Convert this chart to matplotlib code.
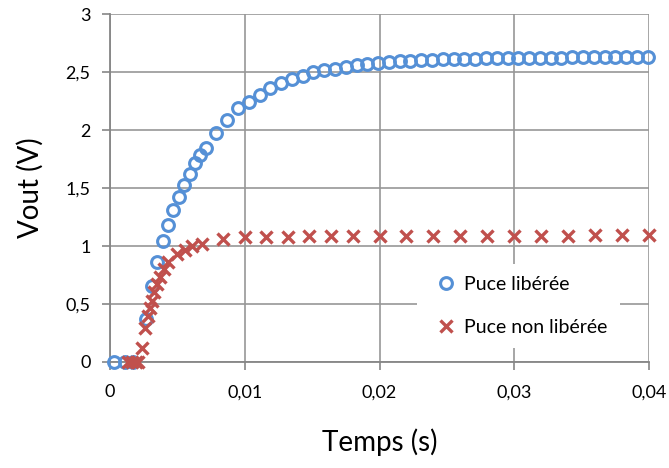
import matplotlib.pyplot as plt
from matplotlib.ticker import FuncFormatter

# Puce libérée (blue circles)
t_lib = [0.0003, 0.0011, 0.0017, 0.0027, 0.0031, 0.0035, 0.0039, 0.0043, 0.0047,
         0.0051, 0.0055, 0.0059, 0.0063, 0.0067, 0.0071, 0.0079, 0.0087, 0.0095,
         0.0103, 0.0111, 0.0119, 0.0127, 0.0135, 0.0143, 0.0151, 0.0159, 0.0167,
         0.0175, 0.0183, 0.0191, 0.0199, 0.0207, 0.0215, 0.0223, 0.0231, 0.0239,
         0.0247, 0.0255, 0.0263, 0.0271, 0.0279, 0.0287, 0.0295, 0.0303, 0.0311,
         0.0319, 0.0327, 0.0335, 0.0343, 0.0351, 0.0359, 0.0367, 0.0375, 0.0383,
         0.0391, 0.0399]
v_lib = [0.0, 0.0, 0.0, 0.37, 0.66, 0.86, 1.04, 1.18, 1.31,
         1.42, 1.53, 1.62, 1.72, 1.79, 1.85, 1.98, 2.09, 2.19,
         2.24, 2.30, 2.36, 2.41, 2.445, 2.47, 2.50, 2.52, 2.53,
         2.545, 2.56, 2.57, 2.58, 2.588, 2.594, 2.60, 2.604, 2.608,
         2.611, 2.614, 2.616, 2.618, 2.62, 2.621, 2.622, 2.623, 2.624,
         2.625, 2.626, 2.627, 2.628, 2.628, 2.629, 2.63, 2.63, 2.631,
         2.632, 2.633]

# Puce non libérée (red crosses)
t_non = [0.0013, 0.0016, 0.0019, 0.0021, 0.0024, 0.0026, 0.0028, 0.0030, 0.0031,
         0.0033, 0.0035, 0.0037, 0.0040, 0.0043, 0.0050, 0.0056, 0.0061, 0.0068,
         0.0084, 0.0100, 0.0116, 0.0132, 0.0148, 0.0164, 0.0180, 0.0200, 0.0220,
         0.0240, 0.0260, 0.0280, 0.0300, 0.0320, 0.0340, 0.0360, 0.0380, 0.0400]
v_non = [0.0, 0.0, 0.0, 0.0, 0.12, 0.29, 0.40, 0.47, 0.53,
         0.60, 0.67, 0.73, 0.80, 0.86, 0.93, 0.97, 1.00, 1.02,
         1.06, 1.075, 1.078, 1.08, 1.083, 1.085, 1.087, 1.088, 1.089,
         1.09, 1.09, 1.09, 1.09, 1.091, 1.091, 1.092, 1.092, 1.093]

x_ticks = [0, 0.01, 0.02, 0.03, 0.04]
y_ticks = [0, 0.5, 1, 1.5, 2, 2.5, 3]

plt.rcParams['font.family'] = ['Lato', 'DejaVu Sans']

blue = '#5590D6'
red = '#C0504D'
grid_col = '#979797'

fig = plt.figure(figsize=(6.69, 4.68), dpi=100)
ax = fig.add_axes([110 / 669, 1 - 362 / 468, 539 / 669, (362 - 14.3) / 468])

ax.plot(t_lib, v_lib, 'o', ms=8.5, mfc='none', mec=blue, mew=2.2,
        label='Puce libérée', clip_on=False, zorder=3)
ax.plot(t_non, v_non, 'x', ms=9, mec=red, mew=2.4,
        label='Puce non libérée', clip_on=False, zorder=4)

ax.set_xlim(0, 0.04)
ax.set_ylim(0, 3)
ax.set_xticks(x_ticks)
ax.set_yticks(y_ticks)

comma = FuncFormatter(lambda v, p: ('%g' % v).replace('.', ','))
ax.xaxis.set_major_formatter(comma)
ax.yaxis.set_major_formatter(comma)

ax.grid(True, color=grid_col, lw=1.2)
ax.set_axisbelow(True)
for s in ['top', 'right']:
    ax.spines[s].set_visible(False)
for s in ['left', 'bottom']:
    ax.spines[s].set_color('#868686')
    ax.spines[s].set_linewidth(1.3)

ax.tick_params(axis='both', colors='#868686', labelcolor='black',
               labelsize=13, length=6, width=1.2, direction='out')
ax.tick_params(axis='x', pad=10)
ax.tick_params(axis='y', pad=8)

ax.set_xlabel('Temps (s)', fontsize=20, labelpad=20)
ax.set_ylabel('Vout (V)', fontsize=20, labelpad=16)

leg = ax.legend(loc='upper left', bbox_to_anchor=(0.5696, 0.282), fontsize=14,
                frameon=True, framealpha=1, edgecolor='none', facecolor='white',
                labelspacing=1.35, handletextpad=0.1, handlelength=1.7,
                borderpad=0.62, borderaxespad=0, fancybox=False)

fig.savefig('out.png', dpi=100)
